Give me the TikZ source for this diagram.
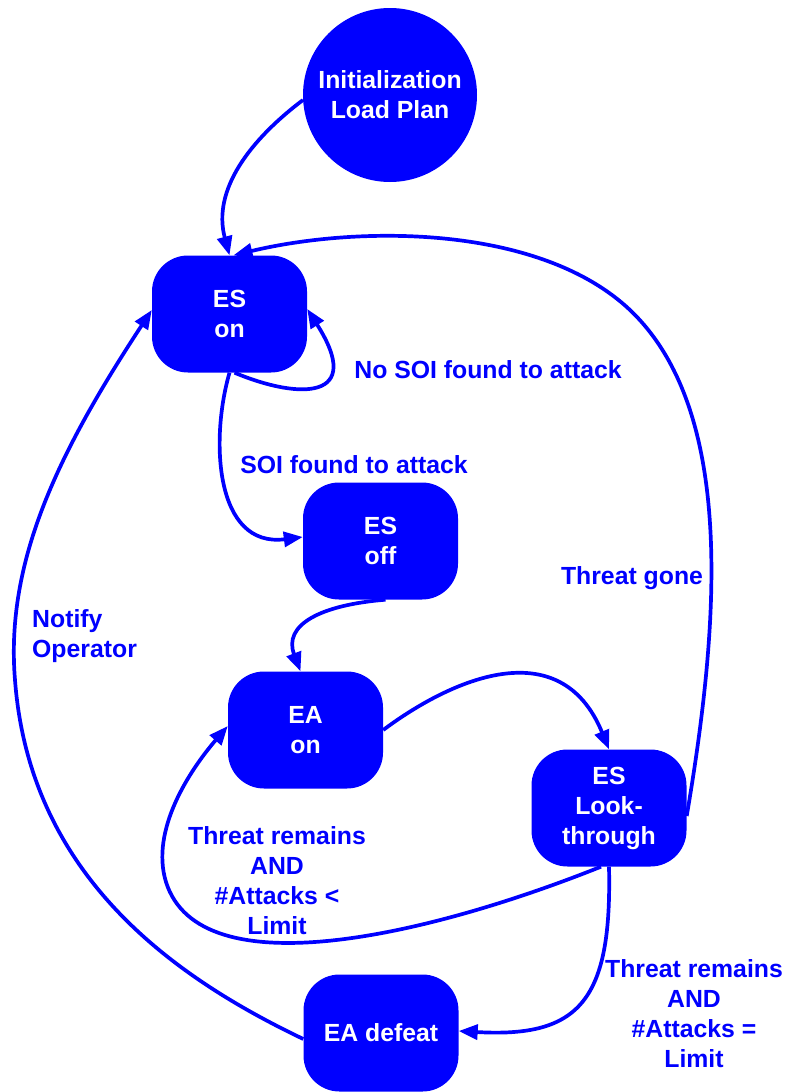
\documentclass[tikz,border=0pt]{standalone}
\usepackage{fontspec}
\setmainfont{Liberation Sans}
\usetikzlibrary{arrows.meta}
\definecolor{dblue}{RGB}{0,0,255}
\begin{document}
\begin{tikzpicture}[x=1pt,y=-1pt,
  statebox/.style={draw=none,fill=dblue,rounded corners=36pt,minimum width=155pt,minimum height=117pt,
    text=white,align=center,font=\fontsize{24.8}{30}\selectfont\bfseries,inner sep=0pt},
  lbl/.style={text=dblue,align=center,font=\fontsize{24.8}{30}\selectfont\bfseries,inner sep=0pt},
  conn/.style={draw=dblue,line width=3.7pt,-{Triangle[length=19pt,width=15pt]}}]
\useasboundingbox (0,0) rectangle (787,1092);
\node[circle,fill=dblue,minimum size=174pt,text=white,align=center,font=\fontsize{24.8}{30}\selectfont\bfseries,inner sep=0pt] (init) at (390,95) {Initialization\\Load Plan};
\node[statebox] (eson) at (229.5,314) {ES\\on};
\node[statebox] (esoff) at (380.5,541) {ES\\off};
\node[statebox] (eaon) at (305.5,730) {EA\\on};
\node[statebox] (eslt) at (609,808) {ES\\Look-\\through};
\node[statebox] (eadef) at (381,1033) {EA defeat};

\coordinate (c1) at (303,100);
\draw[conn] (c1) .. controls (250,140) and (212,190) .. (eson.north);
\draw[conn] ([yshift=-8pt]eslt.east) .. controls (720,620) and (735,410) .. (630,310) .. controls (540,225) and (360,225) .. ([xshift=4pt]eson.north);
\draw[conn] ([xshift=5pt]eson.south) .. controls (300,400) and (365,400) .. ([yshift=5pt]eson.east);
\draw[conn] (eson.south) .. controls (210,440) and (215,548) .. ([yshift=4pt]esoff.west);
\draw[conn] ([xshift=5pt]esoff.south) .. controls (320,605) and (283,625) .. ([xshift=-5pt]eaon.north);
\draw[conn] (eaon.east) .. controls (450,680) and (560,630) .. (eslt.north);
\draw[conn] ([xshift=-8pt]eslt.south) .. controls (430,935) and (200,990) .. (166,882) .. controls (150,830) and (190,770) .. ([yshift=4pt]eaon.west);
\draw[conn] (eslt.south) .. controls (612,1000) and (580,1038) .. ([yshift=2pt]eadef.east);
\draw[conn] ([yshift=-6pt]eadef.west) .. controls (180,980) and (30,880) .. (15,680) .. controls (5,560) and (60,450) .. ([yshift=4pt]eson.west);

\node[lbl] (l1) at (488,370) {No SOI found to attack};
\node[lbl] (l2) at (354,465) {SOI found to attack};
\node[lbl] (l3) at (632,578) {Threat gone};
\node[lbl,align=left,anchor=west] (l4) at (32,636) {Notify\\Operator};
\node[lbl] (l5) at (277,881) {Threat remains\\AND\\\#Attacks <\\Limit};
\node[lbl] (l6) at (694,1014) {Threat remains\\AND\\\#Attacks =\\Limit};
\end{tikzpicture}
\end{document}
